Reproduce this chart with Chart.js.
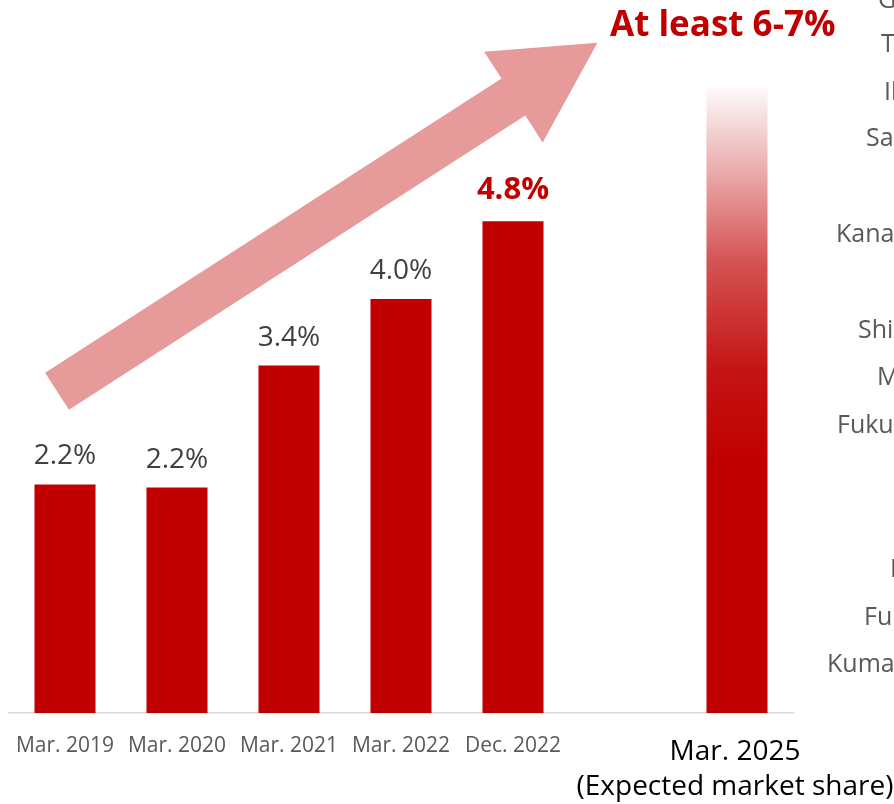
<!DOCTYPE html>
<html>
<head>
<meta charset="utf-8">
<script src="https://cdn.jsdelivr.net/npm/chart.js@4.4.0/dist/chart.umd.min.js"></script>
<style>
  html, body { margin: 0; padding: 0; background: #ffffff; overflow: hidden; width: 894px; height: 804px; }
  #wrap { position: relative; width: 894px; height: 804px; overflow: hidden; }
  #chart { position: absolute; left: 0; top: 0; }
  .side { position: absolute; font-family: "Open Sans", sans-serif; font-size: 25px; line-height: 25px; color: #595959; white-space: nowrap; }
  #headline { position: absolute; left: 610px; font-family: "Open Sans", sans-serif; font-weight: bold; font-size: 35px; line-height: 35px; color: #C00000; white-space: nowrap; }
</style>
</head>
<body>
<div id="wrap">
  <canvas id="chart" width="894" height="804"></canvas>
  <div id="headline">At least 6-7%</div>
</div>
<script>
// ---- data ----
const categories = [
  ['Mar. 2019'], ['Mar. 2020'], ['Mar. 2021'], ['Mar. 2022'], ['Dec. 2022'], [''],
  ['Mar. 2025', '(Expected market share)']
];
const shareValues = [2.23, 2.2, 3.39, 4.04, 4.8, null, 6.1];
const valueLabels = ['2.2%', '2.2%', '3.4%', '4.0%', '4.8%', '', ''];
const highlightIndex = 4;   // bold red label
const forecastIndex = 6;    // gradient bar
const headlineText = 'At least 6-7%';
const sideWords = ['Gunma', 'Tokyo', 'Ibaraki', 'Saitama', 'Kanagawa', 'Shizuoka', 'Miyagi', 'Fukushima', 'Hiroshima', 'Fukuoka', 'Kumamoto'];
// arrow annotation anchored to the scales (category index, value)
const arrowFrom = { index: -0.071, value: 3.14 };
const arrowTo = { index: 4.754, value: 6.54 };

// ---- layout of the cropped side column (decor) ----
const sideLeft = [878, 881, 884, 866, 836, 858, 877, 837, 890, 864, 827];
const sideBase = [8, 52, 100, 146, 242, 338, 385, 433, 577, 625, 672];
const wrap = document.getElementById('wrap');
sideWords.forEach((w, i) => {
  const d = document.createElement('div');
  d.className = 'side';
  d.textContent = w;
  d.style.left = sideLeft[i] + 'px';
  d.style.top = (sideBase[i] - 0.888 * 25 + 0.5) + 'px';
  wrap.appendChild(d);
});
const hl = document.getElementById('headline');
hl.textContent = headlineText;
hl.style.top = (36 - 0.888 * 35) + 'px';

const RED = '#C00000';

function forecastGradient(c) {
  const chart = c.chart;
  const y = chart.scales && chart.scales.y;
  if (!chart.chartArea || !y) return RED;
  const top = y.getPixelForValue(shareValues[forecastIndex]);
  const base = y.getPixelForValue(0);
  const g = chart.ctx.createLinearGradient(0, top, 0, base);
  g.addColorStop(0, 'rgba(192,0,0,0.02)');
  g.addColorStop(0.1, 'rgba(192,0,0,0.25)');
  g.addColorStop(0.28, 'rgba(192,0,0,0.68)');
  g.addColorStop(0.45, 'rgba(192,0,0,0.92)');
  g.addColorStop(0.6, 'rgba(192,0,0,1)');
  g.addColorStop(1, 'rgba(192,0,0,1)');
  return g;
}

const arrowPlugin = {
  id: 'arrow',
  beforeDatasetsDraw(chart) {
    const { ctx, scales: { x, y } } = chart;
    const x0 = x.getPixelForValue(arrowFrom.index), y0 = y.getPixelForValue(arrowFrom.value);
    const x1 = x.getPixelForValue(arrowTo.index), y1 = y.getPixelForValue(arrowTo.value);
    const len = Math.hypot(x1 - x0, y1 - y0);
    const ux = (x1 - x0) / len, uy = (y1 - y0) / len;
    const nx = -uy, ny = ux;
    const sw = 22, hl = 100, hw = 54;
    const bx = x1 - ux * hl, by = y1 - uy * hl;
    ctx.save();
    ctx.fillStyle = '#E69A9A';
    ctx.beginPath();
    ctx.moveTo(x0 + nx * sw, y0 + ny * sw);
    ctx.lineTo(bx + nx * sw, by + ny * sw);
    ctx.lineTo(bx + nx * hw, by + ny * hw);
    ctx.lineTo(x1, y1);
    ctx.lineTo(bx - nx * hw, by - ny * hw);
    ctx.lineTo(bx - nx * sw, by - ny * sw);
    ctx.lineTo(x0 - nx * sw, y0 - ny * sw);
    ctx.closePath();
    ctx.fill();
    ctx.restore();
  }
};

const valueLabelPlugin = {
  id: 'valueLabels',
  afterDatasetsDraw(chart) {
    const { ctx } = chart;
    const meta = chart.getDatasetMeta(0);
    ctx.save();
    ctx.textAlign = 'center';
    ctx.textBaseline = 'alphabetic';
    meta.data.forEach((bar, i) => {
      if (!valueLabels[i]) return;
      if (i === highlightIndex) {
        ctx.font = 'bold 31px "Open Sans"';
        ctx.fillStyle = RED;
        ctx.fillText(valueLabels[i], bar.x, bar.y - 22);
      } else {
        ctx.font = '28px "Open Sans"';
        ctx.fillStyle = '#404040';
        ctx.fillText(valueLabels[i], bar.x, bar.y - 20);
      }
    });
    ctx.restore();
  }
};

const categoryLabelPlugin = {
  id: 'categoryLabels',
  afterDraw(chart) {
    const { ctx, chartArea, scales: { x } } = chart;
    ctx.save();
    ctx.textAlign = 'center';
    ctx.textBaseline = 'alphabetic';
    categories.forEach((lines, i) => {
      const px = x.getPixelForValue(i);
      if (i === forecastIndex) {
        ctx.font = '28px "Open Sans"';
        ctx.fillStyle = '#000000';
        lines.forEach((t, k) => ctx.fillText(t, px - 2, chartArea.bottom + 47 + k * 35));
      } else {
        ctx.font = '21px "Open Sans"';
        ctx.fillStyle = '#595959';
        lines.forEach((t, k) => ctx.fillText(t, px, chartArea.bottom + 39 + k * 26));
      }
    });
    ctx.restore();
  }
};

new Chart(document.getElementById('chart').getContext('2d'), {
  type: 'bar',
  data: {
    labels: categories,
    datasets: [{
      data: shareValues,
      backgroundColor: (c) => c.dataIndex === forecastIndex ? forecastGradient(c) : RED,
      borderWidth: 0,
      barPercentage: 0.545,
      categoryPercentage: 1
    }]
  },
  options: {
    responsive: false,
    animation: false,
    devicePixelRatio: 1,
    layout: { padding: { left: 9, right: 101, top: 8, bottom: 91 } },
    plugins: { legend: { display: false }, tooltip: { enabled: false } },
    scales: {
      x: {
        display: true,
        grid: { display: false, drawTicks: false },
        ticks: { display: false },
        border: { display: true, color: '#D9D9D9', width: 1.5 }
      },
      y: { display: false, min: 0, max: 6.88 }
    }
  },
  plugins: [arrowPlugin, valueLabelPlugin, categoryLabelPlugin]
});
</script>
</body>
</html>
